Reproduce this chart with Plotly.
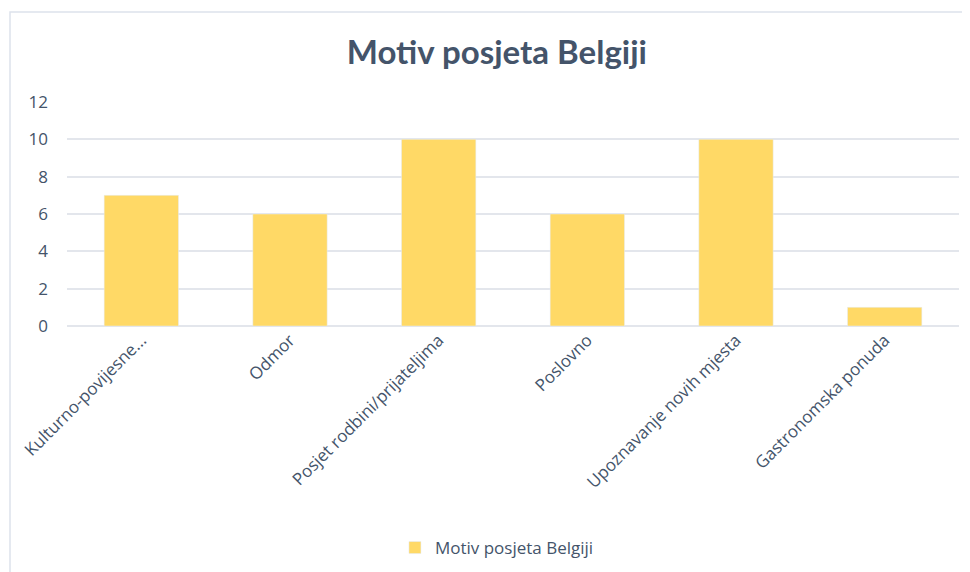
import plotly.graph_objects as go

categories = [
    "Kulturno-povijesne...",
    "Odmor",
    "Posjet rodbini/prijateljima",
    "Poslovno",
    "Upoznavanje novih mjesta",
    "Gastronomska ponuda",
]
values = [7, 6, 10, 6, 10, 1]
series_name = "Motiv posjeta Belgiji"
y_ticks = [0, 2, 4, 6, 8, 10, 12]

text_color = "#44546A"
grid_color = "#E3E6EC"

fig = go.Figure(go.Bar(
    x=categories, y=values, name=series_name,
    marker_color="#FFD966", width=0.5,
))

fig.update_layout(
    width=970, height=572,
    paper_bgcolor="white", plot_bgcolor="white",
    margin=dict(l=59, r=19, t=94, b=254, autoexpand=False),
    font=dict(family="Open Sans, sans-serif", size=17, color=text_color),
    title=dict(
        text="<b>Motiv posjeta Belgiji</b>",
        x=0.504, xref="container", xanchor="center",
        y=1 - 44 / 572, yref="container", yanchor="middle",
        font=dict(family="Lato, sans-serif", size=33, color=text_color),
    ),
    showlegend=True,
    legend=dict(
        orientation="h", x=0.482, xanchor="center", y=-222 / 224, yanchor="middle",
        font=dict(size=17, color=text_color),
    ),
    bargap=0.5,
)

fig.update_xaxes(
    tickangle=-45, showgrid=False, showline=False, ticks="", automargin=False,
    tickfont=dict(size=17, color=text_color),
)
fig.update_yaxes(
    range=[0, 12], tickvals=y_ticks, showgrid=True, gridcolor=grid_color,
    gridwidth=1.5, zeroline=True, zerolinecolor=grid_color, zerolinewidth=1.5,
    ticks="", ticklabelstandoff=18, automargin=False,
    tickfont=dict(size=17, color=text_color),
)

# outer chart frame (only top and left edges are visible in the picture)
fig.add_shape(
    type="rect", xref="paper", yref="paper",
    x0=(2 - 59) / 892, x1=1.1, y0=-1.3, y1=(318 - 4) / 224,
    line=dict(color="#DDE2EC", width=1.5), layer="below",
)

fig.write_html("out.html")
